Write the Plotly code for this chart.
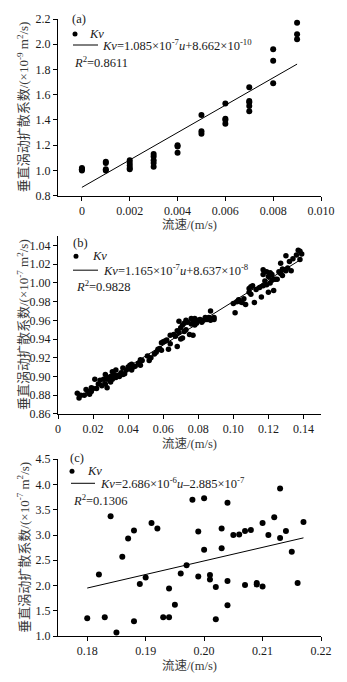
import plotly.graph_objects as go

# ---------------- data ----------------
# (a) vertical eddy diffusivity, units 1e-9 m2/s
a_u = [0.000, 0.000, 0.000, 0.000,
       0.001, 0.001, 0.001, 0.001,
       0.002, 0.002, 0.002, 0.002, 0.002,
       0.003, 0.003, 0.003, 0.003, 0.003,
       0.004, 0.004, 0.004,
       0.005, 0.005, 0.005,
       0.006, 0.006, 0.006, 0.006,
       0.007, 0.007, 0.007, 0.007, 0.007,
       0.008, 0.008, 0.008,
       0.009, 0.009, 0.009]
a_kv = [1.00, 1.01, 1.02, 1.01,
        1.07, 1.06, 1.01, 1.00,
        1.08, 1.06, 1.04, 1.02, 1.01,
        1.13, 1.11, 1.08, 1.06, 1.03,
        1.20, 1.19, 1.14,
        1.44, 1.31, 1.29,
        1.53, 1.41, 1.40, 1.37,
        1.66, 1.55, 1.54, 1.51, 1.47,
        1.96, 1.87, 1.69,
        2.17, 2.08, 2.04]
a_slope, a_icpt = 108.5, 0.8662          # Kv = 1.085e-7 u + 8.662e-10
a_fit_u = [0.0, 0.009]

# (b) units 1e-7 m2/s
b_pts = [
    (0.011, 0.882), (0.012, 0.877), (0.013, 0.880), (0.015, 0.880), (0.016, 0.886),
    (0.017, 0.884), (0.018, 0.881), (0.019, 0.888), (0.019, 0.884), (0.020, 0.887),
    (0.021, 0.897), (0.022, 0.887), (0.023, 0.892), (0.024, 0.896), (0.025, 0.890),
    (0.026, 0.897), (0.027, 0.892), (0.027, 0.902), (0.028, 0.888), (0.028, 0.897),
    (0.029, 0.899), (0.030, 0.894), (0.030, 0.900),
    (0.031, 0.905), (0.031, 0.897), (0.032, 0.902), (0.033, 0.899), (0.033, 0.907),
    (0.034, 0.901), (0.035, 0.900), (0.036, 0.904), (0.037, 0.902), (0.037, 0.909),
    (0.038, 0.903), (0.039, 0.907), (0.040, 0.910),
    (0.041, 0.912), (0.042, 0.907), (0.042, 0.913), (0.043, 0.910), (0.044, 0.911),
    (0.046, 0.914), (0.047, 0.918), (0.047, 0.912), (0.048, 0.917),
    (0.051, 0.922), (0.052, 0.917), (0.053, 0.920), (0.055, 0.924), (0.056, 0.926),
    (0.057, 0.929), (0.058, 0.930), (0.059, 0.928), (0.059, 0.936), (0.060, 0.937),
    (0.061, 0.938), (0.062, 0.939), (0.063, 0.929), (0.064, 0.944), (0.064, 0.935),
    (0.066, 0.945), (0.067, 0.943), (0.068, 0.932), (0.068, 0.949), (0.069, 0.947),
    (0.069, 0.959), (0.070, 0.952), (0.070, 0.940),
    (0.071, 0.955), (0.071, 0.941), (0.072, 0.957), (0.072, 0.948), (0.073, 0.960),
    (0.073, 0.950), (0.074, 0.958), (0.075, 0.945), (0.076, 0.956), (0.076, 0.962),
    (0.077, 0.944), (0.077, 0.958), (0.078, 0.962), (0.078, 0.955), (0.079, 0.957),
    (0.080, 0.960),
    (0.081, 0.961), (0.082, 0.958), (0.083, 0.960), (0.084, 0.963), (0.085, 0.961),
    (0.086, 0.963), (0.087, 0.970), (0.087, 0.960), (0.088, 0.962), (0.089, 0.961),
    (0.089, 0.963),
    (0.100, 0.978), (0.101, 0.968), (0.102, 0.980), (0.103, 0.982), (0.104, 0.980),
    (0.105, 0.979), (0.106, 0.983), (0.107, 0.977), (0.109, 0.994), (0.109, 0.990),
    (0.110, 0.988), (0.110, 0.996),
    (0.111, 0.997), (0.112, 0.979), (0.113, 0.993), (0.115, 0.995), (0.116, 0.985),
    (0.117, 1.014), (0.117, 1.009), (0.117, 0.997), (0.118, 1.002), (0.119, 1.012),
    (0.119, 0.998), (0.120, 1.007), (0.120, 0.990),
    (0.121, 1.011), (0.121, 1.000), (0.122, 1.009), (0.122, 1.003), (0.123, 0.992),
    (0.123, 1.004), (0.124, 1.004), (0.125, 1.004), (0.126, 1.012), (0.127, 1.021),
    (0.127, 1.010), (0.128, 1.015), (0.128, 1.008), (0.129, 1.014), (0.130, 1.029),
    (0.130, 1.013),
    (0.131, 1.016), (0.132, 1.023), (0.133, 1.013), (0.134, 1.026), (0.136, 1.030),
    (0.137, 1.035), (0.138, 1.034), (0.138, 1.025), (0.139, 1.031),
]
b_u = [p[0] for p in b_pts]
b_kv = [p[1] for p in b_pts]
b_slope, b_icpt = 1.165, 0.8637           # Kv = 1.165e-7 u + 8.637e-8
b_fit_u = [0.011, 0.139]

# (c) units 1e-7 m2/s
c_u = [0.180, 0.182, 0.183, 0.184, 0.185, 0.186, 0.187, 0.188, 0.188, 0.189,
       0.190, 0.191, 0.192, 0.193, 0.194, 0.194, 0.195, 0.196, 0.197, 0.198,
       0.199, 0.199, 0.200, 0.200, 0.201, 0.201, 0.202, 0.202, 0.203, 0.203,
       0.204, 0.204, 0.204, 0.205, 0.206, 0.207, 0.207, 0.208, 0.209, 0.209,
       0.210, 0.210, 0.211, 0.212, 0.213, 0.213, 0.214, 0.215, 0.216, 0.217]
c_kv = [1.35, 2.22, 1.37, 3.37, 1.07, 2.57, 2.93, 3.09, 1.29, 2.03,
        2.16, 3.24, 3.13, 1.37, 1.94, 1.37, 1.62, 2.24, 2.40, 3.70,
        3.07, 2.18, 3.73, 2.71, 2.21, 2.12, 1.97, 1.33, 3.13, 2.74,
        3.64, 2.09, 1.61, 3.00, 3.01, 3.08, 2.01, 3.10, 2.05, 2.02,
        3.24, 1.98, 3.00, 3.35, 3.92, 2.94, 3.08, 2.67, 2.05, 3.26]
c_slope, c_icpt = 26.86, -2.885           # Kv = 2.686e-6 u - 2.885e-7
c_fit_u = [0.180, 0.217]

# axis ticks
a_xticks = [0, 0.002, 0.004, 0.006, 0.008, 0.010]
a_xtext = ["0", "0.002", "0.004", "0.006", "0.008", "0.010"]
a_yticks = [0.8, 1.0, 1.2, 1.4, 1.6, 1.8, 2.0, 2.2]
b_xticks = [0, 0.02, 0.04, 0.06, 0.08, 0.10, 0.12, 0.14]
b_xtext = ["0", "0.02", "0.04", "0.06", "0.08", "0.10", "0.12", "0.14"]
b_yticks = [0.86, 0.88, 0.90, 0.92, 0.94, 0.96, 0.98, 1.00, 1.02, 1.04]
c_xticks = [0.18, 0.19, 0.20, 0.21, 0.22]
c_yticks = [1.0, 1.5, 2.0, 2.5, 3.0, 3.5, 4.0, 4.5]

# ---------------- figure ----------------
W, H = 347, 682
SERIF = "Liberation Serif, Times New Roman, Noto Sans CJK SC, serif"
TXT = "#1a1a1a"
TITLE_C = "#3a3a3a"

fig = go.Figure()

panels = [
    dict(sx="", u=a_u, kv=a_kv, slope=a_slope, icpt=a_icpt, fu=a_fit_u, ms=6),
    dict(sx="2", u=b_u, kv=b_kv, slope=b_slope, icpt=b_icpt, fu=b_fit_u, ms=5.5),
    dict(sx="3", u=c_u, kv=c_kv, slope=c_slope, icpt=c_icpt, fu=c_fit_u, ms=6),
]
for p in panels:
    xa, ya = "x" + p["sx"], "y" + p["sx"]
    fig.add_trace(go.Scatter(
        x=p["u"], y=p["kv"], mode="markers", xaxis=xa, yaxis=ya,
        marker=dict(color="black", size=p["ms"]), showlegend=False))
    fy = [p["slope"] * u + p["icpt"] for u in p["fu"]]
    fig.add_trace(go.Scatter(
        x=p["fu"], y=fy, mode="lines", xaxis=xa, yaxis=ya,
        line=dict(color="black", width=1), showlegend=False))

# panel pixel boxes (left, top, right, bottom)
ML, MR, MT, MB = 58, 21, 18, 39
plot_h = H - MT - MB
def ydom(top, bottom):
    return [(H - MB - bottom) / plot_h, (H - MB - top) / plot_h]

axis_common = dict(
    showline=True, linecolor="black", linewidth=1, mirror=False,
    ticks="outside", ticklen=4, tickwidth=1, tickcolor="black",
    showgrid=False, zeroline=False,
    tickfont=dict(family=SERIF, size=12, color=TXT),
)
xtitle = dict(text="流速/(m/s)", font=dict(family=SERIF, size=12.5, color=TITLE_C), standoff=3)

fig.update_layout(
    xaxis=dict(domain=[0, 1], range=[-0.001, 0.010], tickvals=a_xticks, ticktext=a_xtext,
               anchor="y", title=xtitle, **axis_common),
    yaxis=dict(domain=ydom(18, 197), range=[0.8, 2.2], tickvals=a_yticks, tickformat=".1f",
               anchor="x", **axis_common),
    xaxis2=dict(domain=[0, 1], range=[0, 0.15], tickvals=b_xticks, ticktext=b_xtext,
                anchor="y2", title=xtitle, **axis_common),
    yaxis2=dict(domain=ydom(238, 418), range=[0.86, 1.05], tickvals=b_yticks, tickformat=".2f",
                anchor="x2", **axis_common),
    xaxis3=dict(domain=[0, 1], range=[0.175, 0.22], tickvals=c_xticks, tickformat=".2f",
                anchor="y3", title=xtitle, **axis_common),
    yaxis3=dict(domain=ydom(464, 643), range=[1.0, 4.5], tickvals=c_yticks, tickformat=".1f",
                anchor="x3", **axis_common),
    width=W, height=H,
    margin=dict(l=ML, r=MR, t=MT, b=MB),
    paper_bgcolor="white", plot_bgcolor="white",
    font=dict(family=SERIF, color=TXT),
)

# y-axis titles
ytitles = [
    ("", "垂直涡动扩散系数/(×10<sup>-9</sup> m<sup>2</sup>/s)"),
    ("2", "垂直涡动扩散系数/(×10<sup>-7</sup> m<sup>2</sup>/s)"),
    ("3", "垂直涡动扩散系数/(×10<sup>-7</sup> m<sup>2</sup>/s)"),
]
for sx, t in ytitles:
    fig.add_annotation(text=t, xref=f"x{sx} domain", yref=f"y{sx} domain", x=0, y=0.5,
                       xshift=-35, textangle=-90, showarrow=False,
                       xanchor="center", yanchor="middle",
                       font=dict(family=SERIF, size=13, color=TITLE_C))

# in-plot key: tag, marker row, fit-line row, R2 row (pixel offsets from panel top-left)
keys = [
    dict(sx="", tag="(a)",
         eq="<i>Kv</i>=1.085×10<sup>-7</sup><i>u</i>+8.662×10<sup>-10</sup>",
         r2="<i>R</i><sup>2</sup>=0.8611",
         tag_xy=(12, 0), dot_xy=(17, 15), kv_x=29, line_x=(15, 40), eq_xy=(42, 26), r2_xy=(14, 43)),
    dict(sx="2", tag="(b)",
         eq="<i>Kv</i>=1.165×10<sup>-7</sup><i>u</i>+8.637×10<sup>-8</sup>",
         r2="<i>R</i><sup>2</sup>=0.9828",
         tag_xy=(13, 7), dot_xy=(18, 20), kv_x=32, line_x=(15, 40), eq_xy=(43, 34), r2_xy=(16, 50)),
    dict(sx="3", tag="(c)",
         eq="<i>Kv</i>=2.686×10<sup>-6</sup><i>u</i>–2.885×10<sup>-7</sup>",
         r2="<i>R</i><sup>2</sup>=0.1306",
         tag_xy=(10, -1), dot_xy=(14, 12), kv_x=27, line_x=(13, 37), eq_xy=(40, 24), r2_xy=(13, 41)),
]
kfont = dict(family=SERIF, size=12.5, color=TXT)
for k in keys:
    xr, yr = f"x{k['sx']} domain", f"y{k['sx']} domain"
    def note(text, dx, dy):
        fig.add_annotation(text=text, xref=xr, yref=yr, x=0, y=1, xshift=dx, yshift=-dy,
                           xanchor="left", yanchor="middle", showarrow=False, font=kfont)
    note(k["tag"], *k["tag_xy"])
    note("<i>Kv</i>", k["kv_x"], k["dot_xy"][1])
    note(k["eq"], *k["eq_xy"])
    note(k["r2"], *k["r2_xy"])
    dx, dy = k["dot_xy"]
    fig.add_shape(type="circle", xref=xr, yref=yr, xsizemode="pixel", ysizemode="pixel",
                  xanchor=0, yanchor=1, x0=dx - 2.5, x1=dx + 2.5, y0=-dy - 2.5, y1=-dy + 2.5,
                  fillcolor="black", line=dict(width=0))
    lx0, lx1 = k["line_x"]
    ly = k["eq_xy"][1]
    fig.add_shape(type="line", xref=xr, yref=yr, xsizemode="pixel", ysizemode="pixel",
                  xanchor=0, yanchor=1, x0=lx0, x1=lx1, y0=-ly, y1=-ly,
                  line=dict(color="black", width=1))

fig.write_html("out.html")
